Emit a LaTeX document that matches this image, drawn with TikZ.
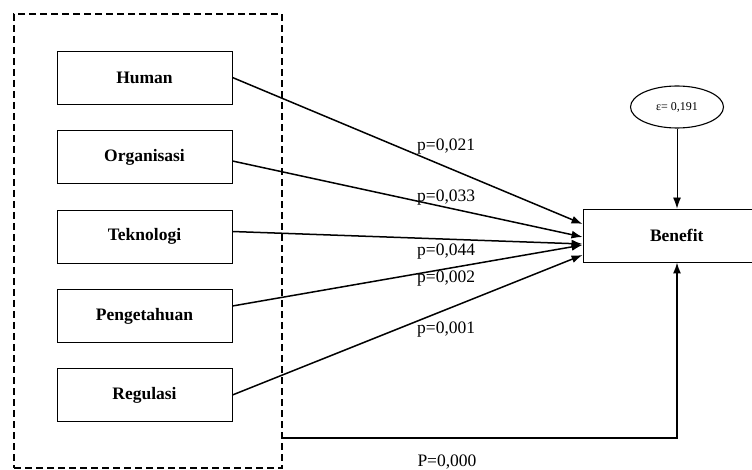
\documentclass[tikz,border=0pt]{standalone}
\usepackage{fontspec}
\setmainfont{Liberation Serif}
\usepackage{tikz}
\usetikzlibrary{positioning,arrows.meta,shapes.geometric}
\tikzset{
	factor/.style={%
		draw, line width=0.9pt,
		minimum width=#1,
		minimum height=53pt,
		font=\fontsize{17.5}{20}\selectfont\bfseries
	},
	factor/.default=175pt,
	pval/.style={anchor=west, inner sep=0pt, font=\fontsize{17.5}{20}\selectfont},
	path/.style={line width=1.5pt, -{Latex[length=11pt,width=8pt]}},
	>=LaTeX
}

\begin{document}
\begin{tikzpicture}[x=1pt,y=-1pt]
		\useasboundingbox (0,0) rectangle (752,470);
		
		% Place the five factors
		\node[factor] (human) at (144.5,77.5) {Human};
		\node[factor] (organisasi) at (144.5,157) {Organisasi};
		\node[factor] (teknologi) at (144.5,236.5) {Teknologi};
		\node[factor] (pengetahuan) at (144.5,316) {Pengetahuan};
		\node[factor] (regulasi) at (144.5,395) {Regulasi};
		
		% dashed frame around the factors
		\node (group) at (148,241) [draw,dashed,dash pattern=on 7pt off 4pt,line width=1.3pt,minimum width=268pt,minimum height=454pt] {};
		
		\node[factor=180pt,text width=166pt,align=left] (benefit) at (673,235.5) {\hspace*{60pt}Benefit};
		
		\node (error) at (677,107) [draw,ellipse,line width=1.1pt,minimum width=93pt,minimum height=42pt,font=\fontsize{12}{14}\selectfont] {ε= 0,191};
		
		\coordinate (corner) at (677,438);
		
		%arrows into benefit
		\draw[path] (human.east) -- ([yshift=11.5pt]benefit.west);
		\draw[path] ([yshift=-4pt]organisasi.east) -- ([yshift=-1.5pt]benefit.west);
		\draw[path] ([yshift=5pt]teknologi.east) -- ([yshift=-8.5pt]benefit.west);
		\draw[path] ([yshift=10pt]pengetahuan.east) -- ([yshift=-9.5pt]benefit.west);
		\draw[path] (regulasi.east) -- ([yshift=-19.5pt]benefit.west);
		
		\draw[->,line width=0.9pt,>={Latex[length=11pt,width=8pt]}] (error) -- (error |- benefit.north);
		\draw[path] (group.east |- corner) -- (corner) -- (corner |- benefit.south);
		
		% p values
		\node[pval] (p1) at (417,147) {p=0,021};
		\node[pval] (p2) at (417,198) {p=0,033};
		\node[pval] (p3) at (417,252) {p=0,044};
		\node[pval] (p4) at (417,279) {p=0,002};
		\node[pval] (p5) at (417,330) {p=0,001};
		\node[pval,anchor=center] (p6) at (447,462) {P=0,000};
		
\end{tikzpicture}
\end{document}
